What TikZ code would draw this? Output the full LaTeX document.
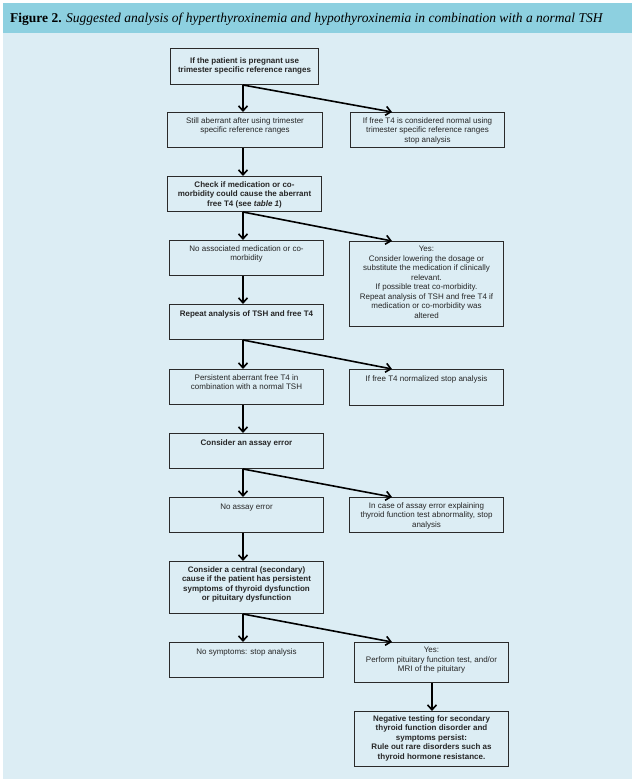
\documentclass[tikz,border=0pt]{standalone}
\usepackage{fontspec}
\setmainfont{Liberation Serif}
\newfontfamily\boxfont{Liberation Sans}
\usetikzlibrary{arrows.meta}
\definecolor{headbar}{HTML}{8DD0E0}
\definecolor{bodybg}{HTML}{DCEDF4}
\definecolor{boxline}{HTML}{2A2A2A}
\tikzset{
  flowbox/.style={draw=boxline, line width=1pt, rectangle, inner sep=0pt},
  boxtext/.style={anchor=north, align=center, inner sep=0pt, font=\boxfont\fontsize{8}{9.5}\selectfont, text=black!85,
    execute at begin node={\rule{0pt}{7pt}}},
  boldtext/.style={boxtext, font=\boxfont\bfseries\fontsize{8}{9.5}\selectfont},
  flowarrow/.style={line width=1.6pt, -{Straight Barb[length=5pt,width=9pt,line width=1.6pt]}}
}
\newcommand{\flowboxat}[5]{% name, x1, y1, x2, y2
  \node[flowbox, anchor=north west, minimum width={#4-#2}, minimum height={#5-#3}] (#1) at (#2,#3) {};}
\begin{document}
\begin{tikzpicture}[x=1pt,y=-1pt]
\useasboundingbox (0,0) rectangle (636,782);
\fill[white] (0,0) rectangle (636,782);
\fill[bodybg] (3,33) rectangle (632,779);
\fill[headbar] (3,3) rectangle (632,33);
\node[anchor=base west, inner sep=0pt, font=\fontsize{13.5}{15}\selectfont] (title) at (10,22)
  {\textbf{Figure 2.} \textit{Suggested analysis of hyperthyroxinemia and hypothyroxinemia in combination with a normal TSH}};

% boxes
\flowboxat{A}{170}{48}{318}{84}
\flowboxat{B}{167}{112}{322}{147}
\flowboxat{C}{350}{112}{504}{147}
\flowboxat{D}{167}{176}{321}{211}
\flowboxat{E}{169}{240}{323}{275}
\flowboxat{F}{349}{241}{503}{326}
\flowboxat{G}{169}{304}{323}{339}
\flowboxat{H}{169}{369}{323}{404}
\flowboxat{I}{349}{369}{503}{405}
\flowboxat{J}{169}{433}{323}{468}
\flowboxat{K}{169}{497}{323}{532}
\flowboxat{L}{349}{497}{503}{532}
\flowboxat{M}{169}{561}{323}{613}
\flowboxat{N}{169}{642}{323}{677}
\flowboxat{O}{354}{642}{508}{682}
\flowboxat{P}{354}{711}{508}{766}

% texts (first baseline about 12pt below the box top)
\node[boldtext] (At) at ([yshift=-9.5pt]A.north) {If the patient is pregnant use\\trimester specific reference ranges};
\node[boxtext] (Bt) at ([yshift=-5pt]B.north) {Still aberrant after using trimester\\specific reference ranges};
\node[boxtext] (Ct) at ([yshift=-5pt]C.north) {If free T4 is considered normal using\\trimester specific reference ranges\\stop analysis};
\node[boldtext] (Dt) at ([yshift=-5pt]D.north) {Check if medication or co-\\morbidity could cause the aberrant\\free T4 (see \textit{table 1})};
\node[boxtext] (Et) at ([yshift=-5pt]E.north) {No associated medication or co-\\morbidity};
\node[boxtext] (Ft) at ([yshift=-5pt]F.north) {Yes:\\Consider lowering the dosage or\\substitute the medication if clinically\\relevant.\\If possible treat co-morbidity.\\Repeat analysis of TSH and free T4 if\\medication or co-morbidity was\\altered};
\node[boldtext] (Gt) at ([yshift=-5pt]G.north) {Repeat analysis of TSH and free T4};
\node[boxtext] (Ht) at ([yshift=-5pt]H.north) {Persistent aberrant free T4 in\\combination with a normal TSH};
\node[boxtext] (It) at ([yshift=-5pt]I.north) {If free T4 normalized stop analysis};
\node[boldtext] (Jt) at ([yshift=-5pt]J.north) {Consider an assay error};
\node[boxtext] (Kt) at ([yshift=-5pt]K.north) {No assay error};
\node[boxtext] (Lt) at ([yshift=-5pt]L.north) {In case of assay error explaining\\thyroid function test abnormality, stop\\analysis};
\node[boldtext] (Mt) at ([yshift=-5pt]M.north) {Consider a central (secondary)\\cause if the patient has persistent\\symptoms of thyroid dysfunction\\or pituitary dysfunction};
\node[boxtext] (Nt) at ([yshift=-5pt]N.north) {No symptoms: stop analysis};
\node[boxtext] (Ot) at ([yshift=-5pt]O.north) {Yes:\\Perform pituitary function test, and/or\\MRI of the pituitary};
\node[boldtext] (Pt) at ([yshift=-4pt]P.north) {Negative testing for secondary\\thyroid function disorder and\\symptoms persist:\\Rule out rare disorders such as\\thyroid hormone resistance.};

% connectors
\coordinate (col) at (243,0);
\foreach \s/\t in {A/B,B/D,D/E,E/G,G/H,H/J,J/K,K/M,M/N}{
  \draw[flowarrow] (col |- \s.south) -- (col |- \t.north);
}
\foreach \s/\t/\dx in {A/C/42,D/F/43,G/I/43,J/L/43,M/O/38}{
  \draw[flowarrow] (col |- \s.south) -- ([xshift=\dx pt]\t.north west);
}
\coordinate (col2) at (432,0);
\draw[flowarrow] (col2 |- O.south) -- (col2 |- P.north);
\end{tikzpicture}
\end{document}
